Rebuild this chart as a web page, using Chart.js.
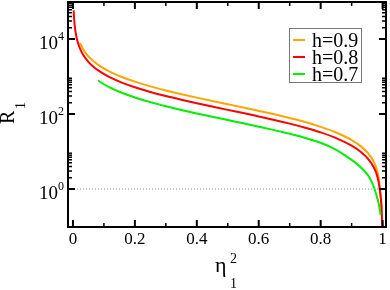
<!doctype html>
<html lang="en">
<head>
<meta charset="utf-8">
<title>R1 vs eta1^2</title>
<script src="https://cdn.jsdelivr.net/npm/chart.js@4.4.1/dist/chart.umd.min.js"></script>
<style>
  html, body { margin: 0; padding: 0; background: #fff; }
  #wrap { width: 390px; height: 290px; }
</style>
</head>
<body>
<div id="wrap"><canvas id="myChart" width="390" height="290"></canvas></div>
<script>
// values (x = eta_1^2, y = R_1)
var labels = ['h=0.9', 'h=0.8', 'h=0.7']

var xOrange = [0.0226, 0.03, 0.045, 0.065, 0.09, 0.12, 0.16, 0.2, 0.25, 0.3, 0.35, 0.4, 0.45, 0.5, 0.55, 0.6, 0.65, 0.7, 0.75, 0.8, 0.85, 0.9, 0.93, 0.955, 0.97, 0.98, 0.987, 0.992, 0.996, 0.9985, 0.9993]
var yOrange = [7870, 5880, 3860, 2620, 1840, 1335, 956, 728, 546, 425, 338, 273, 222, 182, 149, 121, 98, 78, 61, 45.5, 32.1, 20.2, 13.7, 8.6, 5.6, 3.6, 2.1, 1.0, 0.42, 0.14, 0.1]

var xRed = [0.0022, 0.004, 0.007, 0.012, 0.02, 0.03, 0.045, 0.065, 0.09, 0.12, 0.16, 0.2, 0.25, 0.3, 0.35, 0.4, 0.45, 0.5, 0.55, 0.6, 0.65, 0.7, 0.75, 0.8, 0.85, 0.9, 0.93, 0.955, 0.97, 0.98, 0.987, 0.992, 0.996, 0.9985, 0.9993]
var yRed = [58000, 32100, 18300, 10600, 6320, 4170, 2740, 1855, 1304, 946, 677, 516, 387, 301, 240, 194, 158, 129, 106, 86, 69.5, 55.3, 43, 32.3, 22.8, 14.3, 9.7, 6.1, 4.0, 2.6, 1.55, 0.8, 0.38, 0.14, 0.1]

var xGreen = [0.081, 0.1, 0.12, 0.16, 0.2, 0.25, 0.3, 0.35, 0.4, 0.45, 0.5, 0.55, 0.6, 0.65, 0.7, 0.75, 0.8, 0.85, 0.88, 0.91, 0.935, 0.955, 0.97, 0.98, 0.987, 0.991, 0.994]
var yGreen = [783, 621, 506, 362, 276, 207, 161, 128, 103.5, 84.3, 69, 56.5, 46, 37.2, 29.6, 23, 17.1, 11.1, 7.8, 5.2, 3.4, 2.2, 1.24, 0.69, 0.42, 0.28, 0.2]

var refLineY = 1

var xMin = -0.016, xMax = 1.011
var yMin = 0.097, yMax = 97000

var xMajorTicks = [0, 0.2, 0.4, 0.6, 0.8, 1]
var xTickLabels = ['0', '0.2', '0.4', '0.6', '0.8', '1']
var xMinorTicks = [0.1, 0.3, 0.5, 0.7, 0.9]
var yMajorTicks = [1, 100, 10000]
var yTickExps = ['0', '2', '4']
var yMinorTicks = [2, 3, 4, 5, 6, 7, 8, 9, 200, 300, 400, 500, 600, 700, 800, 900, 20000, 30000, 40000, 50000, 60000, 70000, 80000, 90000]

function pts(xs, ys) {
    var out = []
    for (var i = 0; i < xs.length; i++) out.push({x: xs[i], y: ys[i]})
    return out
}

var SERIF = '"Liberation Serif", "DejaVu Serif", serif'

var framePlugin = {
    id: 'framePlugin',
    afterDraw: function(chart) {
        var ctx = chart.ctx, a = chart.chartArea
        var sx = chart.scales.x, sy = chart.scales.y
        ctx.save()
        ctx.strokeStyle = '#000'
        ctx.fillStyle = '#000'

        // ticks, pointing inward on all four sides
        function vtick(v, len, w) {
            var px = sx.getPixelForValue(v)
            ctx.lineWidth = w
            ctx.beginPath()
            ctx.moveTo(px, a.bottom); ctx.lineTo(px, a.bottom - len)
            ctx.moveTo(px, a.top); ctx.lineTo(px, a.top + len)
            ctx.stroke()
        }
        function htick(v, len, w) {
            var py = sy.getPixelForValue(v)
            ctx.lineWidth = w
            ctx.beginPath()
            ctx.moveTo(a.left, py); ctx.lineTo(a.left + len, py)
            ctx.moveTo(a.right, py); ctx.lineTo(a.right - len, py)
            ctx.stroke()
        }
        xMajorTicks.forEach(function(v) { vtick(v, 7, 2) })
        xMinorTicks.forEach(function(v) { vtick(v, 4, 1.5) })
        yMajorTicks.forEach(function(v) { htick(v, 7, 2) })
        yMinorTicks.forEach(function(v) { htick(v, 4, 1.5) })

        ctx.lineWidth = 2
        ctx.strokeRect(a.left, a.top, a.right - a.left, a.bottom - a.top)

        // x tick labels
        ctx.font = '17px ' + SERIF
        ctx.textAlign = 'center'
        ctx.textBaseline = 'alphabetic'
        xMajorTicks.forEach(function(v, i) {
            ctx.fillText(xTickLabels[i], sx.getPixelForValue(v), a.bottom + 17)
        })

        // y tick labels 10^n
        yMajorTicks.forEach(function(v, i) {
            var py = sy.getPixelForValue(v)
            ctx.font = '12px ' + SERIF
            ctx.textAlign = 'left'
            var ew = ctx.measureText(yTickExps[i]).width
            var ex = a.left - 4 - ew
            ctx.fillText(yTickExps[i], ex, py + 1)
            ctx.font = '19px ' + SERIF
            ctx.textAlign = 'right'
            ctx.fillText('10', ex, py + 9.5)
        })

        // x axis title: eta_1^2
        ctx.textAlign = 'left'
        ctx.font = '22px ' + SERIF
        ctx.fillText('\u03b7', 215, 272)
        ctx.font = '14px ' + SERIF
        ctx.fillText('2', 230, 263)
        ctx.fillText('1', 230, 288)

        // y axis title: R_1 (rotated)
        ctx.save()
        ctx.translate(14, 124)
        ctx.rotate(-Math.PI / 2)
        ctx.font = '20px ' + SERIF
        ctx.fillText('R', 0, 0)
        ctx.font = '14px ' + SERIF
        ctx.fillText('1', 15, 11)
        ctx.restore()

        // legend
        var bx = 289.5, by = 28.5, bw = 72, bh = 54
        ctx.fillStyle = '#fff'
        ctx.fillRect(bx, by, bw, bh)
        ctx.strokeStyle = '#777'
        ctx.lineWidth = 1
        ctx.strokeRect(bx, by, bw, bh)
        var ds = chart.data.datasets
        ctx.font = '20px ' + SERIF
        for (var i = 0; i < labels.length; i++) {
            var cy = 40 + i * 17
            ctx.strokeStyle = ds[i].borderColor
            ctx.lineWidth = 2
            ctx.beginPath()
            ctx.moveTo(293, cy); ctx.lineTo(305, cy)
            ctx.stroke()
            ctx.fillStyle = '#000'
            ctx.fillText(labels[i], 312, cy + 7)
        }
        ctx.restore()
    }
}

var myChart = document.getElementById('myChart').getContext('2d')

var chart = new Chart(myChart, {
    type: 'line',
    data: {
        datasets: [
            {
                label: labels[0],
                data: pts(xOrange, yOrange),
                borderColor: '#ffa500',
                borderWidth: 2,
                order: 2
            },
            {
                label: labels[1],
                data: pts(xRed, yRed),
                borderColor: '#ff0000',
                borderWidth: 2,
                order: 1
            },
            {
                label: labels[2],
                data: pts(xGreen, yGreen),
                borderColor: '#00ee00',
                borderWidth: 2,
                order: 0
            },
            {
                label: 'ref',
                data: [{x: xMin, y: refLineY}, {x: xMax, y: refLineY}],
                borderColor: '#888',
                borderWidth: 1,
                borderDash: [1, 2],
                order: 5
            }
        ]
    },
    options: {
        responsive: false,
        animation: false,
        devicePixelRatio: 1,
        layout: { padding: { left: 68, right: 4, top: 2, bottom: 63 } },
        elements: {
            point: { radius: 0, hoverRadius: 0 },
            line: { cubicInterpolationMode: 'monotone', fill: false }
        },
        plugins: {
            legend: { display: false },
            tooltip: { enabled: false }
        },
        events: [],
        scales: {
            x: { type: 'linear', display: false, min: xMin, max: xMax, bounds: 'data' },
            y: { type: 'logarithmic', display: false, min: yMin, max: yMax, bounds: 'data' }
        }
    },
    plugins: [framePlugin]
})
</script>
</body>
</html>
